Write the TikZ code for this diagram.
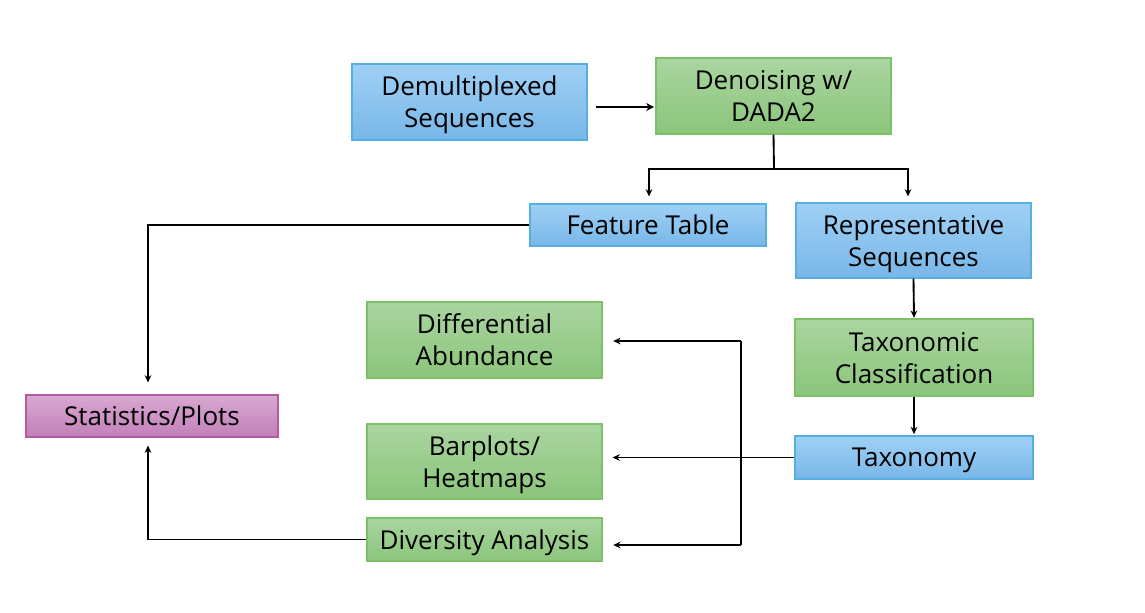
\documentclass[tikz,border=0pt]{standalone}
\usepackage{fontspec}
\setmainfont{Open Sans}
\usetikzlibrary{arrows.meta,calc}
\definecolor{bluetop}{HTML}{9FD0F5}
\definecolor{bluebot}{HTML}{78B7E8}
\definecolor{blueline}{HTML}{56AEE2}
\definecolor{greentop}{HTML}{AAD5A0}
\definecolor{greenbot}{HTML}{8BC57B}
\definecolor{greenline}{HTML}{7CC068}
\definecolor{pinktop}{HTML}{D7A8D0}
\definecolor{pinkbot}{HTML}{C280B9}
\definecolor{pinkline}{HTML}{B65AA3}
\tikzset{
  box/.style={rectangle, inner sep=0pt, align=center, line width=0.8pt,
    font=\fontsize{19.5}{24}\selectfont, text depth=0pt},
  bluebox/.style={box, draw=blueline, top color=bluetop, bottom color=bluebot},
  greenbox/.style={box, draw=greenline, top color=greentop, bottom color=greenbot},
  pinkbox/.style={box, draw=pinkline, top color=pinktop, bottom color=pinkbot},
  arr/.style={line width=1.4pt, -{Stealth[length=5.5pt,width=5pt]}},
  ln/.style={line width=1.4pt},
}
\begin{document}
\begin{tikzpicture}[x=0.75pt,y=-0.75pt]
\useasboundingbox (0,0) rectangle (1145,612);
\node[bluebox, minimum width=176.25pt, minimum height=57pt] (demux) at (469.5,102) {Demultiplexed\\Sequences};
\node[greenbox, minimum width=176.25pt, minimum height=57pt] (denoise) at (773.5,96) {Denoising w/\\DADA2};
\node[bluebox, minimum width=177pt, minimum height=31.5pt] (feat) at (648,225) {Feature Table};
\node[bluebox, minimum width=176.25pt, minimum height=56.25pt] (rep) at (913.5,240.5) {Representative\\Sequences};
\node[greenbox, minimum width=178.5pt, minimum height=57.75pt] (taxc) at (914,357.5) {Taxonomic\\Classification};
\node[bluebox, minimum width=178.5pt, minimum height=32.25pt] (tax) at (914,457.5) {Taxonomy};
\node[pinkbox, minimum width=189pt, minimum height=31.5pt] (stat) at (152,416) {Statistics/Plots};
\node[greenbox, minimum width=176.25pt, minimum height=57pt] (diff) at (484.5,340) {Differential\\Abundance};
\node[greenbox, minimum width=176.25pt, minimum height=56.25pt] (bar) at (484.5,461.5) {Barplots/\\Heatmaps};
\node[greenbox, minimum width=176.25pt, minimum height=32.25pt] (div) at (484.5,539.5) {Diversity Analysis};

% demux -> denoise
\draw[line width=2.2pt, -{Stealth[length=6pt,width=6pt]}, shorten <=6pt, shorten >=1pt] (demux.east |- 0,107) -- (denoise.west |- 0,107);
% denoise split
\coordinate (split) at (774,169);
\draw[ln] (denoise.south) -- (split);
\draw[arr] (split) -- (649,169) -- ($(feat.north -| 649,0)+(0,-7)$);
\draw[arr] (split) -- (908,169) -- ($(rep.north -| 908,0)+(0,-6)$);
% feature table -> stats
\draw[arr, shorten >=9pt] (feat.west) -| (stat.north -| 148,0);
% rep -> taxc -> tax
\draw[arr, shorten >=0.5pt] (rep.south) -- (taxc.north);
\draw[arr, shorten >=1pt] (taxc.south) -- (tax.north);
% taxonomy -> barplots
\draw[arr, shorten >=7.5pt] (tax.west) -- (tax.west -| bar.east);
% bracket to diff and div
\coordinate (jt) at (741,341);
\coordinate (jb) at (741,545);
\draw[ln] (jt) -- (jb);
\draw[arr, shorten >=8pt] (jt) -- (jt -| diff.east);
\draw[arr, shorten >=8pt] (jb) -- (jb -| div.east);
% diversity -> stats
\draw[arr, shorten >=6pt] (div.west) -| (stat.south -| 148,0);
\end{tikzpicture}
\end{document}
